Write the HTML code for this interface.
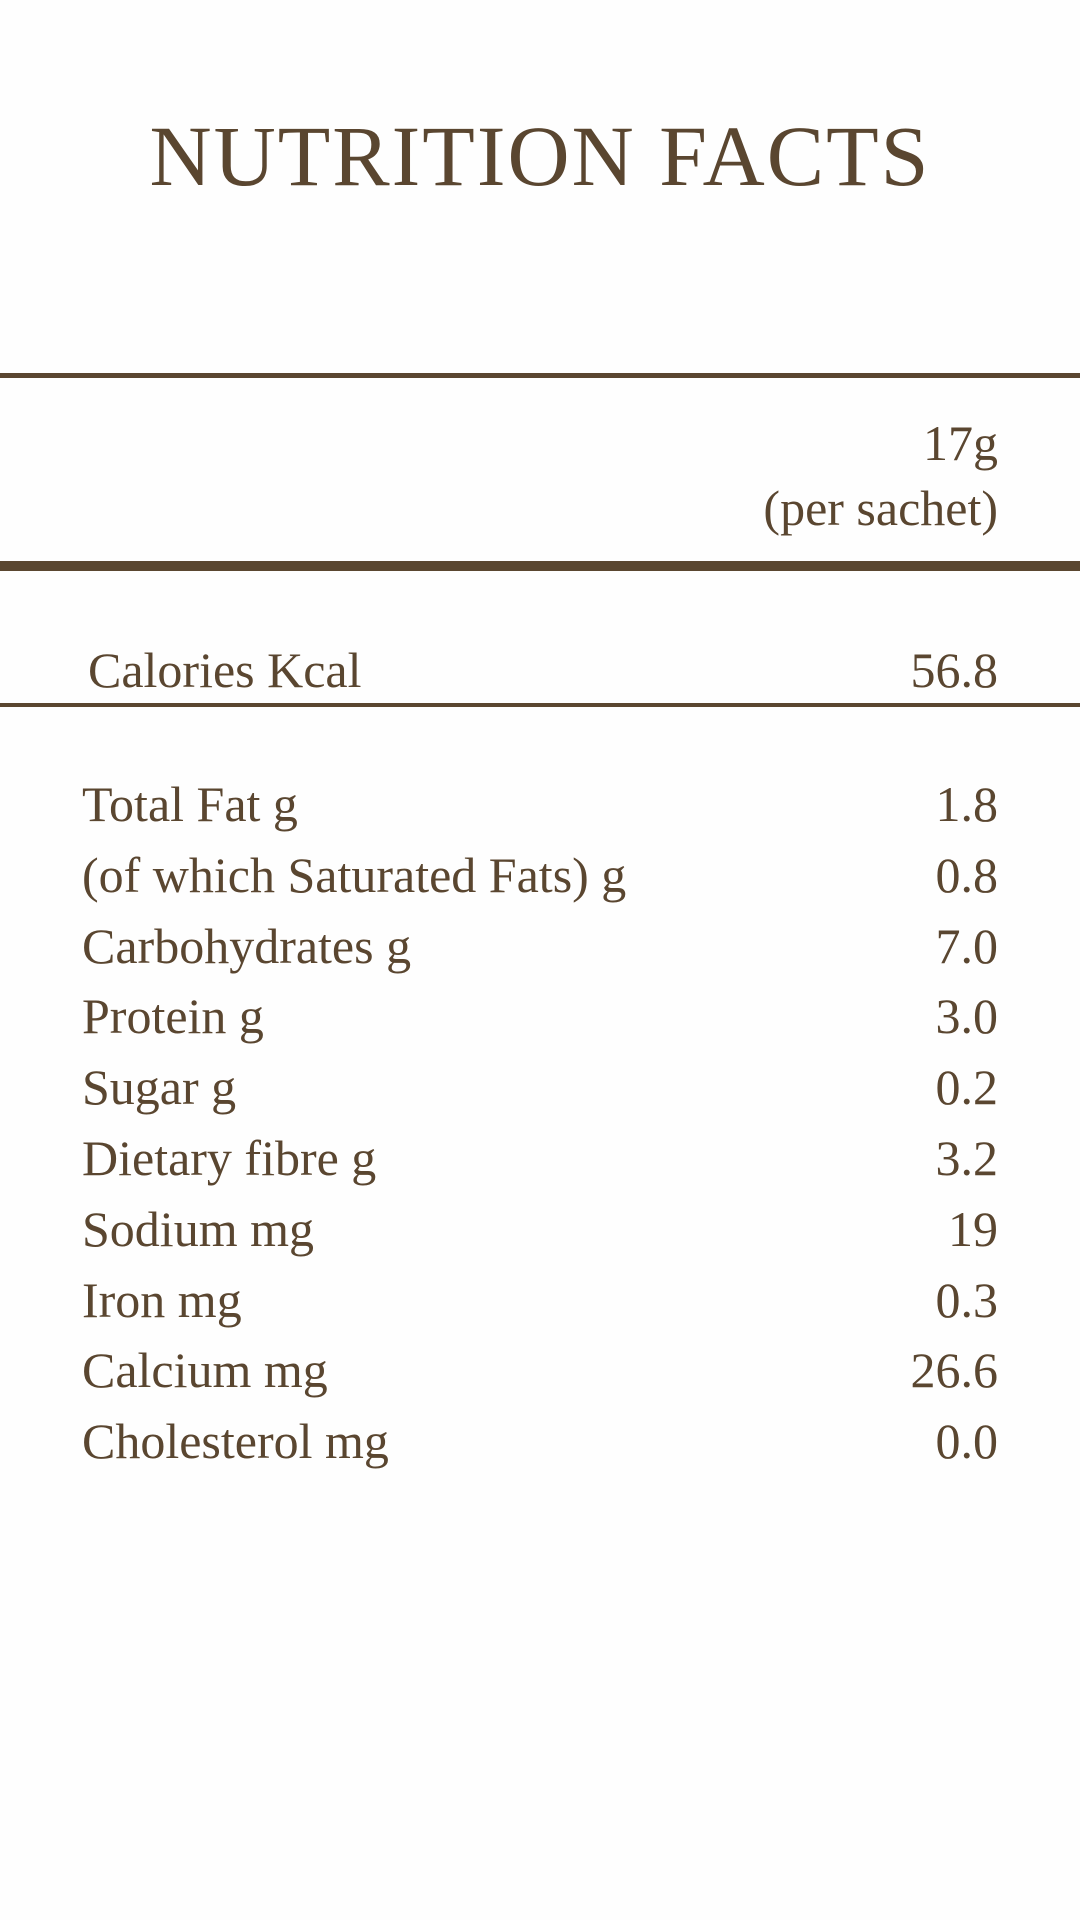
<!DOCTYPE html>
<html><head><meta charset="utf-8"><style>
html,body{margin:0;padding:0;background:#fefefe;}
#page{position:relative;width:1080px;height:1920px;overflow:hidden;background:#fefefe;color:#5a4630;font-family:"Liberation Serif",serif;}
.t{position:absolute;line-height:1;white-space:nowrap;}
.l{left:82px;font-size:50px;}
.r{right:82px;font-size:50px;text-align:right;}
.rule{position:absolute;left:0;width:1080px;background:#5a4630;}
</style></head><body>
<div id="page">
<div class="t" style="left:0;width:1080px;text-align:center;top:113px;font-size:86px;letter-spacing:2px;">NUTRITION FACTS</div>
<div class="rule" style="top:373px;height:5px;"></div>
<div class="t r" style="top:418px;">17g</div>
<div class="t r" style="top:483px;">(per sachet)</div>
<div class="rule" style="top:561px;height:10px;"></div>
<div class="t l" style="left:88px;top:645px;">Calories Kcal</div>
<div class="t r" style="top:645px;">56.8</div>
<div class="rule" style="top:703px;height:4px;"></div>
<div id="rows"></div>
</div>
<script>
const labels=["Total Fat g","(of which Saturated Fats) g","Carbohydrates g","Protein g","Sugar g","Dietary fibre g","Sodium mg","Iron mg","Calcium mg","Cholesterol mg"];
const values=["1.8","0.8","7.0","3.0","0.2","3.2","19","0.3","26.6","0.0"];
const rows=document.getElementById('rows');
labels.forEach((lab,i)=>{
  const top=779+i*70.8;
  const a=document.createElement('div');
  a.className='t l';a.style.top=top+'px';a.textContent=lab;
  
  
  rows.appendChild(a);
  const b=document.createElement('div');
  b.className='t r';b.style.top=top+'px';b.textContent=values[i];
  
  
  rows.appendChild(b);
});
</script>
</body></html>
